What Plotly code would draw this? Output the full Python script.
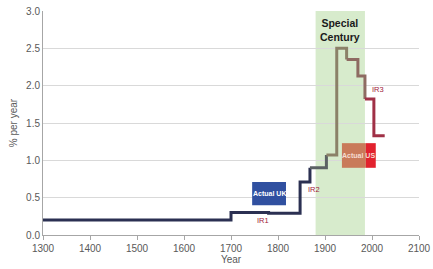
import plotly.graph_objects as go

# Data
years = [1300, 1700, 1780, 1847, 1868, 1903, 1925, 1946, 1970, 1985, 2004, 2027]
rates = [0.20, 0.30, 0.29, 0.71, 0.90, 1.07, 2.50, 2.35, 2.13, 1.82, 1.33, 1.33]
# segment boundaries (indices into years) and colours
seg_bounds = [(0, 4), (4, 5), (5, 7), (7, 9), (9, 11)]
seg_colors = ["#2b3052", "#5c6264", "#8b8168", "#8e6b62", "#a03046"]

special_century = (1880, 1985)
uk_box = dict(x0=1745, x1=1817, y0=0.40, y1=0.71, label="Actual UK")
us_box = dict(x0=1936, x1=1987, x2=2008, y0=0.90, y1=1.23, label="Actual US")
ir_labels = [("IR1", 1768, 0.19), ("IR2", 1877, 0.61), ("IR3", 2013, 1.95)]

x_ticks = [1300, 1400, 1500, 1600, 1700, 1800, 1900, 2000, 2100]
y_ticks = [0.0, 0.5, 1.0, 1.5, 2.0, 2.5, 3.0]

fig = go.Figure()

for (a, b), c in zip(seg_bounds, seg_colors):
    fig.add_trace(go.Scatter(
        x=years[a:b + 1], y=rates[a:b + 1], mode="lines",
        line=dict(color=c, width=3, shape="hv"), showlegend=False,
        hoverinfo="skip"))

shapes = [
    dict(type="rect", xref="x", yref="y", x0=special_century[0], x1=special_century[1],
         y0=0, y1=3.0, fillcolor="#d7ebcc", line=dict(width=0), layer="below"),
    dict(type="rect", xref="x", yref="y", x0=uk_box["x0"], x1=uk_box["x1"],
         y0=uk_box["y0"], y1=uk_box["y1"], fillcolor="#3050a0", line=dict(width=0)),
    dict(type="rect", xref="x", yref="y", x0=us_box["x0"], x1=us_box["x1"],
         y0=us_box["y0"], y1=us_box["y1"], fillcolor="#c97a5a", line=dict(width=0)),
    dict(type="rect", xref="x", yref="y", x0=us_box["x1"], x1=us_box["x2"],
         y0=us_box["y0"], y1=us_box["y1"], fillcolor="#e2222e", line=dict(width=0)),
]

annotations = [
    dict(x=sum(special_century) / 2, y=2.95, xref="x", yref="y",
         text="<b>Special<br>Century</b>", showarrow=False,
         font=dict(size=10.5, color="#1a1a1a"), yanchor="top"),
    dict(x=(uk_box["x0"] + uk_box["x1"]) / 2, y=(uk_box["y0"] + uk_box["y1"]) / 2,
         xref="x", yref="y", text="<b>" + uk_box["label"] + "</b>", showarrow=False,
         font=dict(size=7, color="white")),
    dict(x=(us_box["x0"] + us_box["x2"]) / 2, y=(us_box["y0"] + us_box["y1"]) / 2,
         xref="x", yref="y", text="<b>" + us_box["label"] + "</b>", showarrow=False,
         font=dict(size=7, color="#f5dcd0")),
]
for t, x, y in ir_labels:
    annotations.append(dict(x=x, y=y, xref="x", yref="y", text=t, showarrow=False,
                            font=dict(size=7.5, color="#a0203a")))

fig.update_layout(
    width=433, height=269,
    margin=dict(l=43, r=14, t=11, b=34),
    paper_bgcolor="white", plot_bgcolor="white",
    font=dict(family="Liberation Sans, Arial, sans-serif", size=10, color="#595959"),
    shapes=shapes, annotations=annotations,
    xaxis=dict(range=[1300, 2100], tickvals=x_ticks, showgrid=False,
               showline=True, linecolor="#a6a6a6", linewidth=1,
               ticks="outside", ticklen=4, tickcolor="#a6a6a6",
               title=dict(text="Year", standoff=1, font=dict(size=10, color="#595959")),
               zeroline=False, fixedrange=True, automargin=False),
    yaxis=dict(range=[0, 3.0], tickvals=y_ticks, tickformat=".1f",
               showgrid=True, gridcolor="#d9d9d9", gridwidth=1,
               showline=True, linecolor="#a6a6a6", linewidth=1,
               ticks="", title=dict(text="% per year", standoff=6,
                                    font=dict(size=10, color="#595959")),
               zeroline=False, fixedrange=True, automargin=False),
)

fig.write_html("out.html")
